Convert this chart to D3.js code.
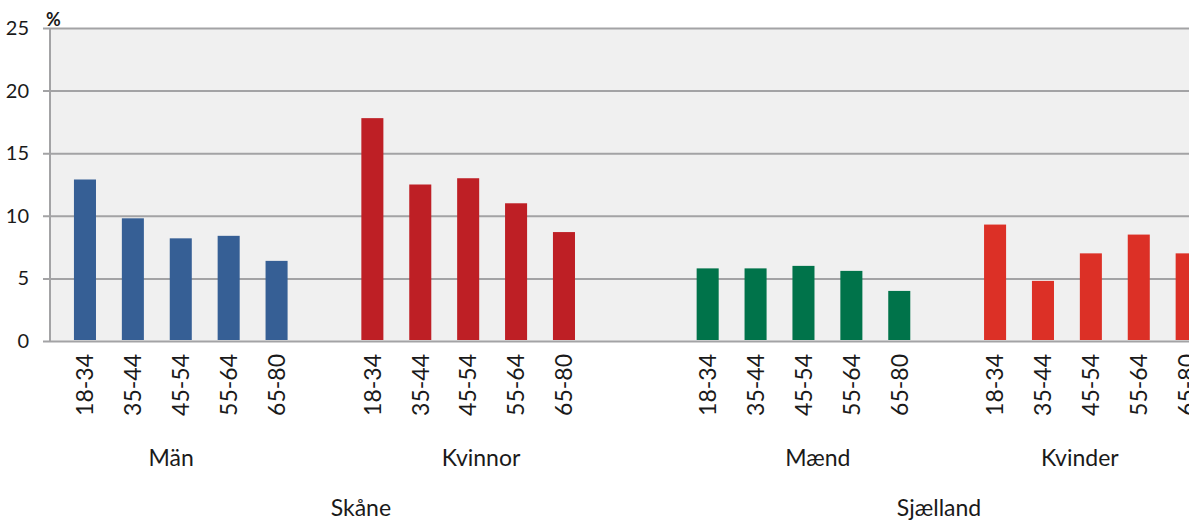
<!DOCTYPE html>
<head>
  <meta charset="utf-8">
  <script src="https://d3js.org/d3.v7.min.js"></script>
  <style>
    body { margin:0; background:#fff; overflow:hidden; }
    svg { display:block; }
    text { font-family: Lato, "Open Sans", sans-serif; fill:#1a1a1a; }
  </style>
</head>
<body>
  <svg width="1189" height="520"></svg>
  <script>
    // data
    var regions = ['Skåne', 'Sjælland'];
    var groups = ['Män', 'Kvinnor', 'Mænd', 'Kvinder'];
    var ages = ['18-34', '35-44', '45-54', '55-64', '65-80'];
    var manSkane = [12.9, 9.8, 8.2, 8.4, 6.4];
    var kvinnorSkane = [17.8, 12.5, 13.0, 11.0, 8.7];
    var maendSjaelland = [5.8, 5.8, 6.0, 5.6, 4.0];
    var kvinderSjaelland = [9.3, 4.8, 7.0, 8.5, 7.0];
    var seriesValues = [manSkane, kvinnorSkane, maendSjaelland, kvinderSjaelland];
    var colors = ['#365f95', '#be1f25', '#00734a', '#dc3026'];
    var gapsBefore = [0, 1, 2, 1]; // empty category slots before each group
    var yTicks = [0, 5, 10, 15, 20, 25];
    // where Excel put the group / region captions, in category slots
    var groupLabelAt = [1.8, 8.27, 15.3, 20.77];
    var regionLabelAt = [5.76, 17.83];

    var margin = {top: 28, left: 50, bottom: 179};
    var height = 520;

    // build slot list (including blank slots)
    var slots = [];
    var bars = [];
    groups.forEach((g, gi) => {
      for (var k = 0; k < gapsBefore[gi]; k++) slots.push('blank-' + gi + '-' + k);
      ages.forEach((a, ai) => {
        var key = g + '|' + a;
        slots.push(key);
        bars.push({key: key, age: a, group: gi, value: seriesValues[gi][ai]});
      });
    });

    var step = 47.9;
    var x = d3.scaleBand()
      .domain(slots)
      .range([margin.left, margin.left + step * (slots.length - 0.54 + 1)])
      .paddingInner(0.54)
      .paddingOuter(0.5);
    var slotX = d3.scaleLinear()
      .domain([0, 1])
      .range([x(slots[0]) + x.bandwidth() / 2, x(slots[1]) + x.bandwidth() / 2]);

    var y = d3.scaleLinear()
      .domain([0, 25])
      .range([height - margin.bottom, margin.top]);

    var svg = d3.select('svg');

    // plot background
    svg.append('rect')
      .attr('x', margin.left)
      .attr('y', y(25))
      .attr('width', 1189 - margin.left)
      .attr('height', y(0) - y(25))
      .attr('fill', '#f0f0f0');

    // gridlines + ticks
    var yAxis = d3.axisLeft(y)
      .tickValues(yTicks)
      .tickSize(-(1189 - margin.left))
      .tickPadding(10)
      .tickFormat(d3.format('d'));
    var gy = svg.append('g')
      .attr('transform', 'translate(' + margin.left + ',0)')
      .call(yAxis);
    gy.select('.domain').remove();
    gy.selectAll('.tick line')
      .attr('x1', -7)
      .attr('stroke', '#a3a3a5')
      .attr('stroke-width', 2);
    gy.selectAll('.tick text')
      .attr('font-size', 20)
      .attr('font-family', 'Lato')
      .attr('fill', '#1a1a1a')
      .attr('x', -21);

    // vertical axis line
    svg.append('line')
      .attr('x1', margin.left).attr('x2', margin.left)
      .attr('y1', y(25)).attr('y2', y(0))
      .attr('stroke', '#a3a3a5')
      .attr('stroke-width', 2);

    svg.append('text')
      .attr('x', 46)
      .attr('y', 26)
      .attr('font-size', 18)
      .attr('font-weight', 'bold')
      .text('%');

    // bars
    svg.append('g').selectAll('rect')
      .data(bars)
      .join('rect')
      .attr('x', d => x(d.key))
      .attr('width', x.bandwidth())
      .attr('y', d => y(d.value))
      .attr('height', d => y(0) - y(d.value) - 1)
      .attr('fill', d => colors[d.group]);

    // rotated age labels
    svg.append('g').selectAll('text')
      .data(bars)
      .join('text')
      .attr('transform', d => 'translate(' + (x(d.key) + x.bandwidth() / 2) + ',' + (y(0) + 13) + ') rotate(-90)')
      .attr('text-anchor', 'end')
      .attr('dy', '0.36em')
      .attr('font-size', 23)
      .text(d => d.age);

    // group captions
    svg.append('g').selectAll('text')
      .data(groups)
      .join('text')
      .attr('x', (d, i) => slotX(groupLabelAt[i]))
      .attr('y', 466)
      .attr('text-anchor', 'middle')
      .attr('font-size', 23)
      .text(d => d);

    // region captions
    svg.append('g').selectAll('text')
      .data(regions)
      .join('text')
      .attr('x', (d, i) => slotX(regionLabelAt[i]))
      .attr('y', 516)
      .attr('text-anchor', 'middle')
      .attr('font-size', 23)
      .text(d => d);
  </script>
</body>
